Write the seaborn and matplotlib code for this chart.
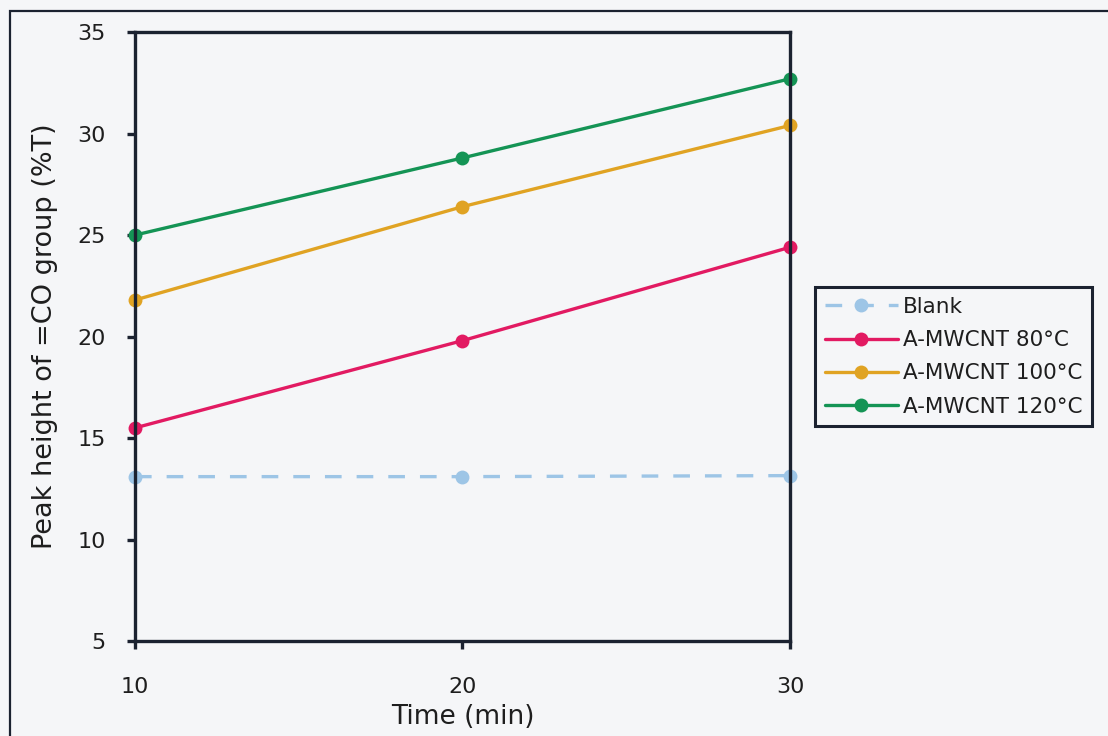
import matplotlib
matplotlib.use("Agg")
import matplotlib.pyplot as plt
from matplotlib.patches import Rectangle
import seaborn as sns
import pandas as pd

# Reaction time (min)
times = [10, 20, 30]

# Peak height of the =CO group (%T) for each treatment
blank = [13.1, 13.1, 13.15]
mwcnt_80 = [15.5, 19.8, 24.4]
mwcnt_100 = [21.8, 26.4, 30.4]
mwcnt_120 = [25.0, 28.8, 32.7]

series_names = ["Blank", "A-MWCNT 80°C", "A-MWCNT 100°C", "A-MWCNT 120°C"]
series_values = [blank, mwcnt_80, mwcnt_100, mwcnt_120]
series_colors = ["#9dc5e6", "#e21a62", "#e0a323", "#149455"]

rows = []
for name, vals in zip(series_names, series_values):
    for t, v in zip(times, vals):
        rows.append({"Time": t, "Peak": v, "Series": name})
df = pd.DataFrame(rows)

sns.set_theme(style="white")
plt.rcParams["font.family"] = ["DejaVu Sans"]

ink = "#1b2230"
text_col = "#1e1e1e"
bg = "#f5f6f8"

fig = plt.figure(figsize=(11.08, 7.36), dpi=100, facecolor=bg)
ax = fig.add_axes([0.1218, 0.129, 0.5912, 0.8274])
ax.set_facecolor(bg)

palette = dict(zip(series_names, series_colors))
sns.lineplot(
    data=df, x="Time", y="Peak", hue="Series", style="Series",
    hue_order=series_names, style_order=series_names,
    palette=palette,
    dashes={series_names[0]: (5, 4.5), series_names[1]: "",
            series_names[2]: "", series_names[3]: ""},
    markers={n: "o" for n in series_names},
    markersize=10, markeredgewidth=0, linewidth=2.4,
    ax=ax, clip_on=False,
)

ax.set_xlim(10, 30)
ax.set_ylim(5, 35)
ax.set_xticks([10, 20, 30])
ax.set_yticks([5, 10, 15, 20, 25, 30, 35])

for side in ["left", "right", "top", "bottom"]:
    ax.spines[side].set_visible(True)
    ax.spines[side].set_color(ink)
    ax.spines[side].set_linewidth(2.4)

ax.tick_params(axis="y", direction="out", length=6, width=2.4, color=ink,
               labelsize=16, labelcolor=text_col, pad=15, left=True)
ax.tick_params(axis="x", direction="out", length=6, width=2.4, color=ink,
               labelsize=16, labelcolor=text_col, pad=20, bottom=True)

ax.set_xlabel("Time (min)", fontsize=19, color=text_col, labelpad=5)
ax.set_ylabel("Peak height of =CO group (%T)", fontsize=19.5, color=text_col,
              labelpad=14)

handles, labels = ax.get_legend_handles_labels()
ax.legend_.remove()
leg = fig.legend(
    handles, labels, loc="upper left",
    bbox_to_anchor=(815 / 1108, 1 - 287 / 736),
    fontsize=15.5, frameon=True, fancybox=False, framealpha=1,
    edgecolor=ink, facecolor=bg, handlelength=3.4, handletextpad=0.25,
    labelspacing=0.62, borderpad=0.45, borderaxespad=0,
)
leg.get_frame().set_linewidth(2.2)
for txt in leg.get_texts():
    txt.set_color(text_col)

# Page frame around the figure
fig.patches.append(Rectangle((10 / 1108, -0.1), 1.2, 1.1 - 11 / 736,
                             transform=fig.transFigure, fill=False,
                             edgecolor=ink, linewidth=1.6))

fig.savefig("out.png", dpi=100, facecolor=bg)
